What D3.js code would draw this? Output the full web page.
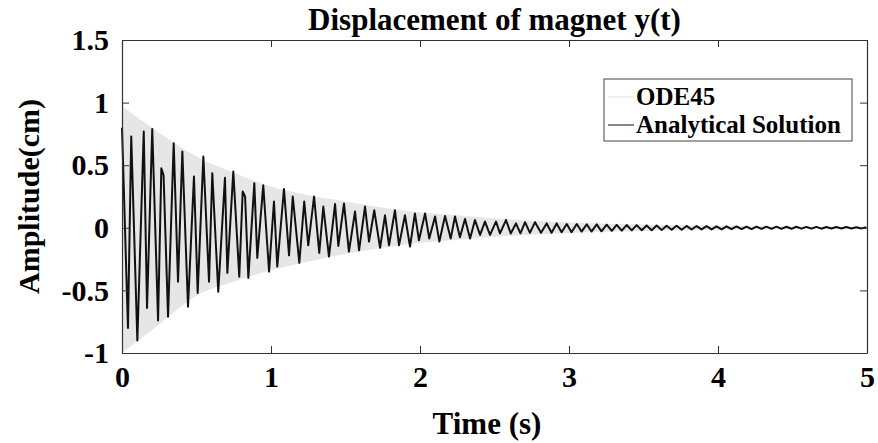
<!DOCTYPE html>
<html><head><meta charset="utf-8">
<script src="https://cdn.jsdelivr.net/npm/d3@7"></script>
<style>html,body{margin:0;padding:0;background:#fff;}svg{display:block;}</style>
</head><body>
<script>
// ----- Data -----
const title = "Displacement of magnet y(t)";
const xLabel = "Time (s)";
const yLabel = "Amplitude(cm)";
const xTicks = [0,1,2,3,4,5];
const yTicks = [-1,-0.5,0,0.5,1,1.5];
const seriesNames = ["ODE45","Analytical Solution"];

// ODE45 (dense oscillation) read as its envelope
const odeT     = [0, 0.25, 0.5, 0.75, 1, 1.25, 1.5, 1.75, 2, 2.25, 2.5, 2.75, 3, 3.5, 4, 4.5, 5];
const odeUpper = [0.97, 0.76, 0.57, 0.44, 0.33, 0.26, 0.21, 0.16, 0.125, 0.10, 0.075, 0.057, 0.043, 0.026, 0.016, 0.010, 0.006];
const odeLower = [-1.0, -0.77, -0.54, -0.43, -0.34, -0.27, -0.21, -0.16, -0.12, -0.095, -0.072, -0.055, -0.042, -0.026, -0.016, -0.010, -0.006];

const anaT = [0, 0.040, 0.062, 0.103, 0.146, 0.168, 0.203, 0.242, 0.264, 0.279, 0.309, 0.347, 0.376, 0.405, 0.443, 0.483,
  0.508, 0.546, 0.584, 0.606, 0.646, 0.691, 0.707, 0.747, 0.787, 0.810, 0.826, 0.848, 0.888, 0.908, 0.948, 0.987,
  1.020, 1.042, 1.087, 1.121, 1.146, 1.190, 1.223, 1.250, 1.289, 1.324, 1.351, 1.389, 1.430, 1.452, 1.490,
  1.523, 1.564, 1.591, 1.631, 1.658, 1.693, 1.732, 1.765, 1.792, 1.832, 1.859, 1.899, 1.933, 1.966, 1.993,
  2.034, 2.062, 2.101, 2.130, 2.168, 2.206, 2.235, 2.268, 2.302, 2.336, 2.369, 2.403, 2.436, 2.470, 2.510,
  2.537, 2.577, 2.609, 2.644, 2.674, 2.705, 2.738, 2.772, 2.812, 2.850, 2.883, 2.917, 2.950, 2.985,
  3.017, 3.052, 3.084, 3.119, 3.151, 3.186, 3.218, 3.253,
  3.287, 3.320, 3.354, 3.387, 3.421, 3.454, 3.488, 3.521, 3.555, 3.588, 3.622, 3.655, 3.689, 3.722, 3.756, 3.789,
  3.823, 3.856, 3.890, 3.923, 3.957, 3.990, 4.024, 4.057, 4.091, 4.124, 4.158, 4.191, 4.225, 4.258, 4.292, 4.325,
  4.359, 4.392, 4.426, 4.459, 4.493, 4.526, 4.560, 4.593, 4.627, 4.660, 4.694, 4.727, 4.761, 4.794, 4.828, 4.861,
  4.895, 4.928, 4.962, 4.995];
const anaY = [0.80, -0.80, 0.73, -0.90, 0.77, -0.64, 0.79, -0.74, 0.475, 0.42, -0.71, 0.675, -0.43, 0.61, -0.63, 0.41,
  -0.52, 0.57, -0.43, 0.435, -0.51, 0.40, -0.36, 0.45, -0.39, 0.29, 0.25, -0.40, 0.355, -0.24, 0.34, -0.35,
  0.21, -0.31, 0.31, -0.22, 0.25, -0.28, 0.21, -0.14, 0.25, -0.20, 0.17, -0.23, 0.19, -0.145, 0.195,
  -0.19, 0.13, -0.18, 0.17, -0.11, 0.14, -0.16, 0.10, -0.14, 0.14, -0.14, 0.10, -0.15, 0.115, -0.10,
  0.115, -0.085, 0.09, -0.11, 0.095, -0.085, 0.09, -0.075, 0.07, -0.085, 0.062, -0.057, 0.05, -0.057, 0.05,
  -0.045, 0.062, -0.045, 0.035, -0.045, 0.045, -0.04, 0.045, -0.04, 0.035, -0.04, 0.035, -0.035, 0.03,
  -0.035, 0.03, -0.03, 0.028, -0.03, 0.027, -0.028, 0.025,
  -0.024, 0.023, -0.023, 0.022, -0.021, 0.021, -0.020, 0.019, -0.019, 0.018, -0.017, 0.017, -0.016, 0.016, -0.015, 0.015,
  -0.014, 0.014, -0.013, 0.013, -0.013, 0.012, -0.012, 0.012, -0.011, 0.011, -0.011, 0.010, -0.010, 0.010, -0.009, 0.009,
  -0.009, 0.009, -0.008, 0.008, -0.008, 0.008, -0.007, 0.007, -0.007, 0.007, -0.007, 0.006, -0.006, 0.006, -0.006, 0.006,
  -0.006, 0.005, -0.005, 0.005];

// ----- Layout -----
const W = 878, H = 443;
const m = {left:122, right:11, top:40, bottom:90};
const FONT = "'Liberation Serif','Times New Roman',serif";

const svg = d3.select("body").append("svg").attr("width", W).attr("height", H);
const x = d3.scaleLinear().domain([0,5]).range([m.left, W - m.right]);
const y = d3.scaleLinear().domain([-1,1.5]).range([H - m.bottom, m.top]);

// ODE45 envelope
const odeData = odeT.map((t,i)=>({t, u:odeUpper[i], l:odeLower[i]}));
svg.append("path").datum(odeData)
  .attr("fill", "#e6e6e6")
  .attr("d", d3.area().x(d=>x(d.t)).y0(d=>y(d.l)).y1(d=>y(d.u)).curve(d3.curveMonotoneX));

// Analytical
const anaData = anaT.map((t,i)=>({t, v:anaY[i]}));
svg.append("path").datum(anaData)
  .attr("fill","none").attr("stroke","#111").attr("stroke-width",2).attr("stroke-linejoin","round")
  .attr("d", d3.line().x(d=>x(d.t)).y(d=>y(d.v)));

// Axes
const axisColor = "#333";
const tl = 7;
const gB = svg.append("g").attr("transform",`translate(0,${y(-1)})`)
  .call(d3.axisBottom(x).tickValues(xTicks).tickSizeInner(-tl).tickSizeOuter(0).tickPadding(13).tickFormat(d3.format("d")));
const gT = svg.append("g").attr("transform",`translate(0,${y(1.5)})`)
  .call(d3.axisTop(x).tickValues(xTicks).tickSizeInner(-tl).tickSizeOuter(0).tickFormat(""));
const gL = svg.append("g").attr("transform",`translate(${x(0)},0)`)
  .call(d3.axisLeft(y).tickValues(yTicks).tickSizeInner(-tl).tickSizeOuter(0).tickPadding(13).tickFormat(d=>String(d)));
const gR = svg.append("g").attr("transform",`translate(${x(5)},0)`)
  .call(d3.axisRight(y).tickValues(yTicks).tickSizeInner(-tl).tickSizeOuter(0).tickFormat(""));
[gB,gT,gL,gR].forEach(g=>{
  g.selectAll("path.domain").attr("stroke",axisColor).attr("stroke-width",1.2);
  g.selectAll(".tick line").attr("stroke",axisColor).attr("stroke-width",1);
  g.selectAll("text").attr("fill","#000").style("font-family",FONT).style("font-weight","bold").style("font-size","30px");
});

// Title and labels
svg.append("text").attr("x",(x(0)+x(5))/2).attr("y",30).attr("text-anchor","middle")
  .style("font-family",FONT).style("font-weight","bold").style("font-size","31px").text(title);
svg.append("text").attr("x",487).attr("y",434).attr("text-anchor","middle")
  .style("font-family",FONT).style("font-weight","bold").style("font-size","31px").text(xLabel);
svg.append("text").attr("transform",`translate(39,${(y(-1)+y(1.5))/2}) rotate(-90)`).attr("text-anchor","middle")
  .style("font-family",FONT).style("font-weight","bold").style("font-size","30px").text(yLabel);

// Legend
const lg = svg.append("g");
lg.append("rect").attr("x",604).attr("y",79).attr("width",248).attr("height",62)
  .attr("fill","#fff").attr("stroke","#444").attr("stroke-width",1);
const legColors = ["#e0e0e0","#111"];
seriesNames.forEach((n,i)=>{
  const yy = 97 + i*28;
  lg.append("line").attr("x1",608).attr("x2",634).attr("y1",yy).attr("y2",yy)
    .attr("stroke",legColors[i]).attr("stroke-width",1);
  lg.append("text").attr("x",636).attr("y",yy+8)
    .style("font-family",FONT).style("font-weight","bold").style("font-size","25px").text(n);
});
</script>
</body></html>
